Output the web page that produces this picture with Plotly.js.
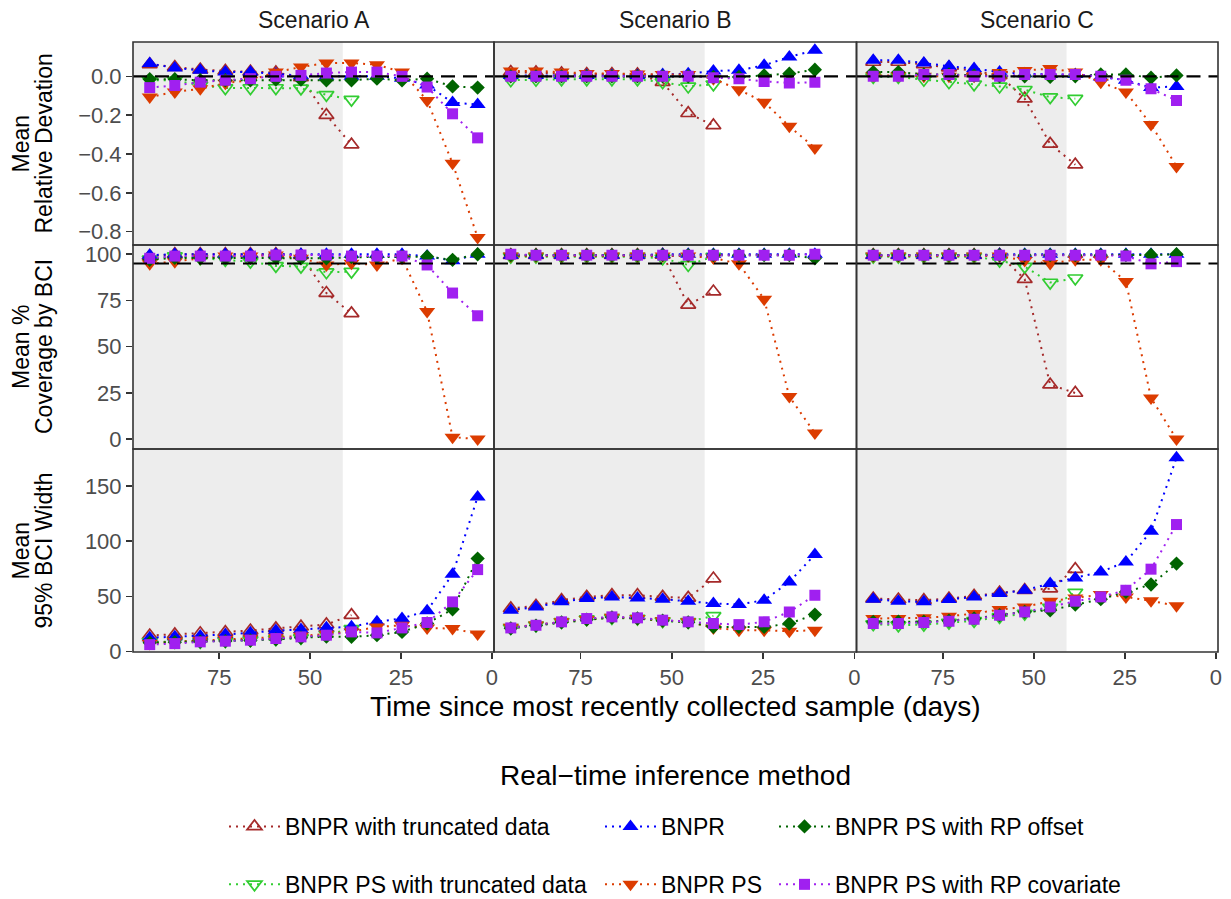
<!DOCTYPE html>
<html><head><meta charset="utf-8">
<script src="https://cdn.plot.ly/plotly-3.0.1.min.js"></script>
<style>html,body{margin:0;padding:0;background:#fff;}#chart{width:1231px;height:899px;}</style>
</head><body><div id="chart"></div>
<script>
// ---- data ----
const days = [94.1, 87.2, 80.2, 73.3, 66.4, 59.4, 52.5, 45.5, 38.6, 31.6, 24.7, 17.8, 10.8, 3.9];
const scenarios = ["Scenario A", "Scenario B", "Scenario C"];
const methods = ["BNPR with truncated data", "BNPR PS with truncated data", "BNPR", "BNPR PS", "BNPR PS with RP offset", "BNPR PS with RP covariate"];
const rowTitles = [["Mean", "Relative Devation"], ["Mean %", "Coverage by BCI"], ["Mean", "95% BCI Width"]];
const xTickVals = [0, 25, 50, 75];
const yTickVals1 = [-0.8, -0.6, -0.4, -0.2, 0];
const yTickText1 = ["\u22120.8", "\u22120.6", "\u22120.4", "\u22120.2", "0.0"];
const yTickVals2 = [0, 25, 50, 75, 100];
const yTickVals3 = [0, 50, 100, 150];

// Mean relative deviation
const rdA_bnprTrunc = [0.062, 0.048, 0.035, 0.028, 0.024, 0.02, -0.005, -0.20, -0.352];
const rdA_psTrunc   = [-0.02, -0.02, -0.047, -0.06, -0.06, -0.06, -0.062, -0.095, -0.12];
const rdA_bnpr      = [0.066, 0.043, 0.031, 0.022, 0.022, 0.012, 0.004, 0.0, 0.0, 0.0, -0.01, -0.045, -0.135, -0.145];
const rdA_ps        = [-0.107, -0.08, -0.064, -0.035, -0.02, 0.022, 0.048, 0.069, 0.069, 0.06, 0.022, -0.124, -0.448, -0.83];
const rdA_offset    = [-0.015, -0.015, -0.02, -0.02, -0.02, -0.017, -0.017, -0.02, -0.02, -0.012, -0.02, -0.012, -0.052, -0.058];
const rdA_cov       = [-0.058, -0.047, -0.03, -0.02, -0.012, 0.0, 0.005, 0.017, 0.022, 0.022, 0.0, -0.055, -0.193, -0.317];

const rdB_bnprTrunc = [0.022, 0.02, 0.015, 0.012, 0.012, 0.01, -0.03, -0.19, -0.253];
const rdB_psTrunc   = [-0.02, -0.017, -0.015, -0.015, -0.015, -0.015, -0.03, -0.052, -0.041];
const rdB_bnpr      = [0.005, 0.005, 0.005, 0.005, 0.005, 0.005, 0.01, 0.014, 0.028, 0.031, 0.057, 0.1, 0.134];
const rdB_ps        = [0.028, 0.028, 0.022, 0.015, 0.015, 0.012, 0.01, 0.01, -0.012, -0.069, -0.133, -0.257, -0.369];
const rdB_offset    = [0.0, 0.0, 0.0, 0.0, 0.0, 0.0, 0.0, 0.0, -0.003, -0.003, 0.005, 0.014, 0.034];
const rdB_cov       = [0.0, 0.0, 0.0, 0.0, 0.0, 0.0, 0.0, 0.0, -0.007, -0.012, -0.026, -0.034, -0.03];

const rdC_bnprTrunc = [0.074, 0.074, 0.062, 0.045, 0.028, 0.005, -0.115, -0.348, -0.455];
const rdC_psTrunc   = [-0.003, -0.003, -0.017, -0.03, -0.041, -0.052, -0.069, -0.107, -0.115];
const rdC_bnpr      = [0.083, 0.083, 0.069, 0.052, 0.04, 0.022, 0.014, 0.01, 0.01, -0.003, -0.02, -0.058, -0.052];
const rdC_ps        = [0.005, 0.005, 0.0, 0.0, 0.0, 0.02, 0.03, 0.04, 0.022, -0.03, -0.081, -0.248, -0.464];
const rdC_offset    = [0.022, 0.022, 0.01, 0.01, 0.005, 0.0, 0.0, -0.003, 0.0, 0.01, 0.01, -0.007, 0.005];
const rdC_cov       = [0.0, 0.0, 0.01, 0.01, 0.0, 0.0, 0.01, 0.01, 0.01, 0.0, -0.02, -0.064, -0.124];

// Mean % coverage by BCI
const cvA_bnprTrunc = [99, 100, 100, 100, 100, 100, 99.5, 79, 68];
const cvA_psTrunc   = [97.3, 99, 97.8, 97, 96, 93.7, 93.3, 90.3, 90.6];
const cvA_bnpr      = [99.5, 100, 100, 100, 100, 100, 100, 100, 100, 100, 100, 99, 96.5, 100];
const cvA_ps        = [94.8, 96, 97.8, 99, 99, 99.6, 97.8, 94.2, 95.1, 94.2, 97.8, 69, 1, 0];
const cvA_offset    = [97, 98, 98, 98, 98, 98, 97.8, 97.8, 98.4, 98.4, 98.7, 98.7, 97, 100];
const cvA_cov       = [97.8, 99, 99, 99, 99, 99.6, 99.6, 99.6, 99, 99, 99, 94.2, 79, 66.7];

const cvB_bnprTrunc = [99.5, 99.5, 99.5, 99.5, 99.5, 99.5, 99.6, 72.6, 79.8];
const cvB_psTrunc   = [98.7, 98.7, 98.7, 98.7, 98.7, 98.7, 97.8, 94.2, 98.7];
const cvB_bnpr      = [99.5, 99.5, 99.5, 99.5, 99.5, 99.5, 100, 100, 100, 100, 100, 100, 100];
const cvB_ps        = [99, 99, 99, 99, 99, 99, 99, 99, 98, 94.8, 75.7, 23, 3.2];
const cvB_offset    = [99.5, 99.5, 99.5, 99.5, 99.5, 99.5, 99.5, 99.5, 99.5, 99.5, 99.5, 99.5, 97.8];
const cvB_cov       = [100, 99.5, 99.5, 99.5, 99.5, 99.5, 99.5, 99.5, 99.5, 99.5, 99.5, 99.5, 100];

const cvC_bnprTrunc = [99.5, 99.5, 99.5, 99.5, 99.5, 99.6, 86.5, 29.4, 24.9];
const cvC_psTrunc   = [98.7, 98.7, 98.7, 98.7, 98.7, 96.6, 93.3, 84.7, 87];
const cvC_bnpr      = [99.5, 99.5, 99.5, 99.5, 99.5, 100, 100, 100, 100, 100, 100, 100, 100];
const cvC_ps        = [99, 99, 99, 99, 99, 99, 96.6, 95, 97, 97, 85.2, 22.2, 0];
const cvC_offset    = [99.5, 99.5, 99.5, 99.5, 99.5, 99.5, 99.5, 99.5, 99.5, 99.5, 99.5, 99.6, 100];
const cvC_cov       = [99.5, 99.5, 99.5, 99.5, 99.5, 99.5, 99.5, 99.5, 99.5, 99.5, 99, 94.8, 96];

// Mean 95% BCI width
const wdA_bnprTrunc = [14.5, 15.5, 16.5, 17.5, 19, 21, 22.5, 24.5, 33];
const wdA_psTrunc   = [8.8, 8.8, 8.8, 9.4, 10.3, 11.2, 12.4, 15.4, 20.5];
const wdA_bnpr      = [12.5, 13.5, 14, 15.5, 17, 19, 20, 21.5, 22.5, 27, 30, 37, 70, 140];
const wdA_ps        = [7.2, 9, 10, 11, 12, 13, 14, 16, 18, 22.3, 23.8, 21.4, 20.8, 16];
const wdA_offset    = [8, 8.5, 9, 9.5, 10, 11, 12.5, 13.5, 13.3, 14.8, 17.8, 25.4, 38.3, 84.2];
const wdA_cov       = [6.3, 7.2, 8.8, 9.4, 10.3, 11.8, 13.3, 14.8, 17.8, 16.9, 21.4, 26.3, 45, 74.2];

const wdB_bnprTrunc = [39, 41.4, 46.5, 49.5, 51, 51, 49.5, 48.6, 66.1];
const wdB_psTrunc   = [21.4, 23.8, 26.9, 29.3, 30.5, 29.9, 27.5, 26.9, 32.3];
const wdB_bnpr      = [37.4, 40.4, 45, 48, 49.5, 48.6, 47.4, 45.6, 43.5, 42.6, 46.5, 63, 87.8];
const wdB_ps        = [22, 24, 27, 29, 31, 30, 28, 27, 21.4, 19.3, 19.3, 18.4, 19.3];
const wdB_offset    = [21, 23.5, 26.5, 29, 31, 30, 28, 26.5, 22.3, 22.3, 22.3, 25.4, 33.5];
const wdB_cov       = [21.4, 23.8, 26.9, 29.9, 31.4, 30.5, 28.4, 26.9, 25.4, 24.4, 26.9, 35.9, 51];

const wdC_bnprTrunc = [48, 47.1, 46.5, 48, 50.4, 53.4, 55.5, 57, 74.6];
const wdC_psTrunc   = [24.8, 23.8, 24.4, 26.3, 27.8, 31.4, 34.4, 39.8, 53.4];
const wdC_bnpr      = [47.4, 45.6, 45, 47.1, 49.5, 52.5, 55.5, 61.6, 66.7, 72.1, 81.2, 109, 175.4];
const wdC_ps        = [29.9, 29.9, 30.5, 32, 34.4, 38, 40.4, 45.6, 48.6, 51.6, 49.5, 45.9, 41.4];
const wdC_offset    = [26.9, 27, 27, 28, 30, 33, 36, 37.4, 42.6, 47.4, 54, 60.7, 79.7];
const wdC_cov       = [25.4, 25.4, 26.3, 27.5, 29.3, 32.9, 35.9, 40.4, 45.6, 49.5, 55.5, 74.6, 115];

// lookup [row][scenario] -> arrays in methods order
const grid = [
  [[rdA_bnprTrunc, rdA_psTrunc, rdA_bnpr, rdA_ps, rdA_offset, rdA_cov],
   [rdB_bnprTrunc, rdB_psTrunc, rdB_bnpr, rdB_ps, rdB_offset, rdB_cov],
   [rdC_bnprTrunc, rdC_psTrunc, rdC_bnpr, rdC_ps, rdC_offset, rdC_cov]],
  [[cvA_bnprTrunc, cvA_psTrunc, cvA_bnpr, cvA_ps, cvA_offset, cvA_cov],
   [cvB_bnprTrunc, cvB_psTrunc, cvB_bnpr, cvB_ps, cvB_offset, cvB_cov],
   [cvC_bnprTrunc, cvC_psTrunc, cvC_bnpr, cvC_ps, cvC_offset, cvC_cov]],
  [[wdA_bnprTrunc, wdA_psTrunc, wdA_bnpr, wdA_ps, wdA_offset, wdA_cov],
   [wdB_bnprTrunc, wdB_psTrunc, wdB_bnpr, wdB_ps, wdB_offset, wdB_cov],
   [wdC_bnprTrunc, wdC_psTrunc, wdC_bnpr, wdC_ps, wdC_offset, wdC_cov]]
];

// ---- styles ----
const FONT = "Liberation Sans, Arial, Helvetica, sans-serif";
const styles = [
  {color: "#A52A2A", symbol: "triangle-up-open",   size: 13, lw: 1.7, legend: "legend"},
  {color: "#32CD32", symbol: "triangle-down-open", size: 13, lw: 1.7, legend: "legend"},
  {color: "#0000FF", symbol: "triangle-up",        size: 14, lw: 0,   legend: "legend2"},
  {color: "#DC3C00", symbol: "triangle-down",      size: 14, lw: 0,   legend: "legend2"},
  {color: "#006400", symbol: "diamond",            size: 11, lw: 0,   legend: "legend3"},
  {color: "#A020F0", symbol: "square",             size: 11, lw: 0,   legend: "legend3"}
];
const colDom = [[0, 0.33272], [0.33272, 0.66682], [0.66682, 1]];
const rowDom = [[0.66721, 1], [0.33279, 0.66721], [0, 0.33279]];
const yRanges = [[-0.869, 0.177], [-5.4, 105], [-0.4, 183.4]];
const xRange = [98.7, -0.6];
const shadeFrom = 41;

const traces = [];
const layout = {
  width: 1231, height: 899,
  margin: {l: 133, r: 13, t: 42, b: 247, autoexpand: false},
  paper_bgcolor: "#ffffff", plot_bgcolor: "#ffffff",
  font: {family: FONT, color: "#000"},
  showlegend: true,
  shapes: [], annotations: []
};

for (let r = 0; r < 3; r++) {
  for (let c = 0; c < 3; c++) {
    const i = r * 3 + c + 1;
    const sfx = i === 1 ? "" : String(i);
    const xa = "x" + sfx, ya = "y" + sfx;
    const bottom = r === 2, left = c === 0;
    layout["xaxis" + sfx] = {
      domain: colDom[c], anchor: ya, range: xRange, autorange: false, automargin: false,
      showgrid: false, zeroline: false, showline: false,
      tickvals: xTickVals, ticks: bottom ? "outside" : "", ticklen: 6, tickwidth: 1.5, tickcolor: "#333333",
      showticklabels: bottom, tickfont: {size: 22, color: "#4D4D4D", family: FONT}
    };
    let yax = {
      domain: rowDom[r], anchor: xa, range: yRanges[r], autorange: false, automargin: false,
      showgrid: false, zeroline: false, showline: false,
      ticks: left ? "outside" : "", ticklen: 6, tickwidth: 1.5, tickcolor: "#333333",
      showticklabels: left, tickfont: {size: 22, color: "#4D4D4D", family: FONT}
    };
    if (r === 0) { yax.tickvals = yTickVals1; yax.ticktext = yTickText1; }
    if (r === 1) { yax.tickvals = yTickVals2; }
    if (r === 2) { yax.tickvals = yTickVals3; }
    layout["yaxis" + sfx] = yax;

    // shaded region
    layout.shapes.push({type: "rect", xref: xa, yref: ya + " domain", x0: shadeFrom, x1: xRange[0], y0: 0, y1: 1,
      fillcolor: "#EDEDED", line: {width: 0}, layer: "below"});
    // reference line
    if (r < 2) {
      const ref = r === 0 ? 0 : 95;
      layout.shapes.push({type: "line", xref: xa + " domain", yref: ya, x0: 0, x1: 1, y0: ref, y1: ref,
        line: {color: "#000", width: 2.2, dash: "14px,8px"}, layer: "above"});
    }
    // panel border
    layout.shapes.push({type: "rect", xref: xa + " domain", yref: ya + " domain", x0: 0, x1: 1, y0: 0, y1: 1,
      line: {color: "#333333", width: 1.6}, fillcolor: "rgba(0,0,0,0)", layer: "above"});

    methods.forEach((m, k) => {
      const st = styles[k];
      const yv = grid[r][c][k];
      traces.push({
        type: "scatter", mode: "lines+markers", name: m,
        x: days.slice(0, yv.length), y: yv, xaxis: xa, yaxis: ya,
        legendgroup: m, legend: st.legend, showlegend: (r === 0 && c === 0),
        line: {color: st.color, width: 2, dash: "2px,5px"},
        marker: {symbol: st.symbol, size: st.size, color: st.color, line: {color: st.color, width: st.lw}},
        hoverinfo: "skip"
      });
    });
  }
}

// strip labels
scenarios.forEach((s, c) => {
  layout.annotations.push({text: s, xref: "paper", yref: "paper", x: (colDom[c][0] + colDom[c][1]) / 2, y: 1 + 22 / 610,
    xanchor: "center", yanchor: "middle", showarrow: false, font: {size: 23, color: "#1A1A1A", family: FONT}});
});
// y titles (two lines each)
rowTitles.forEach((t, r) => {
  const yc = (rowDom[r][0] + rowDom[r][1]) / 2;
  layout.annotations.push({text: t[0], xref: "paper", yref: "paper", x: (21 - 133) / 1085, y: yc, textangle: -90,
    xanchor: "center", yanchor: "middle", showarrow: false, font: {size: 23, color: "#000", family: FONT}});
  layout.annotations.push({text: t[1], xref: "paper", yref: "paper", x: (44 - 133) / 1085, y: yc, textangle: -90,
    xanchor: "center", yanchor: "middle", showarrow: false, font: {size: 23, color: "#000", family: FONT}});
});
// x title
layout.annotations.push({text: "Time since most recently collected sample (days)", xref: "paper", yref: "paper",
  x: 0.5, y: -(706 - 652) / 610, xanchor: "center", yanchor: "middle", showarrow: false,
  font: {size: 28, color: "#000", family: FONT}});
// legend title
layout.annotations.push({text: "Real\u2212time inference method", xref: "paper", yref: "paper",
  x: 0.5, y: -(775 - 652) / 610, xanchor: "center", yanchor: "middle", showarrow: false,
  font: {size: 28, color: "#000", family: FONT}});

const legendBase = {xref: "paper", yref: "paper", y: -0.2508, xanchor: "left", yanchor: "top", orientation: "v",
  tracegroupgap: 25, itemwidth: 51, bgcolor: "rgba(0,0,0,0)", borderwidth: 0,
  font: {size: 23, color: "#000", family: FONT}};
layout.legend = Object.assign({}, legendBase, {x: (224 - 133) / 1085});
layout.legend2 = Object.assign({}, legendBase, {x: (600 - 133) / 1085});
layout.legend3 = Object.assign({}, legendBase, {x: (774 - 133) / 1085});

Plotly.newPlot("chart", traces, layout, {displayModeBar: false, staticPlot: true});
</script>
</body></html>
